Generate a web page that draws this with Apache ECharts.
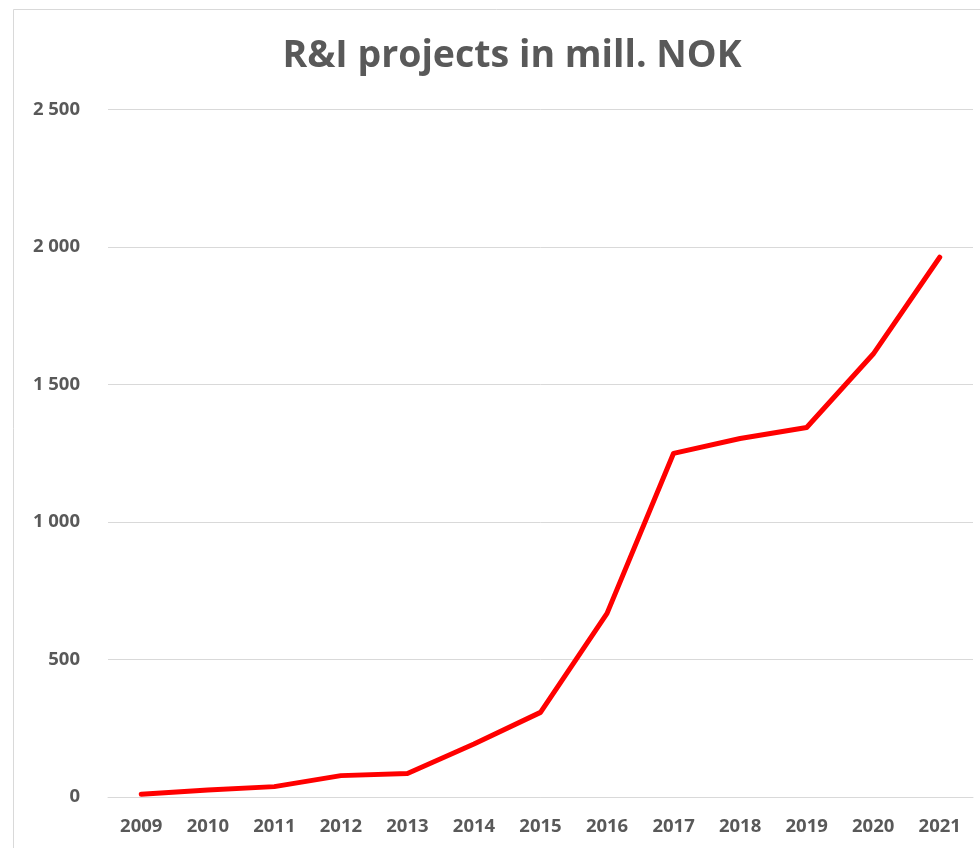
<!DOCTYPE html>
<html><head><meta charset="utf-8">
<script src="https://cdn.jsdelivr.net/npm/echarts@6/dist/echarts.min.js"></script>
<style>html,body{margin:0;padding:0;background:#fff}#c{width:980px;height:848px}</style>
</head><body><div id="c"></div>
<script>
const categories = ['2009','2010','2011','2012','2013','2014','2015','2016','2017','2018','2019','2020','2021'];
const values = [9, 25, 37, 77, 85, 192, 307, 667, 1249, 1303, 1343, 1610, 1962];
const yTicks = [0, 500, 1000, 1500, 2000, 2500];

const chart = echarts.init(document.getElementById('c'), null, {renderer:'canvas'});
const fmt = v => String(v).replace(/\B(?=(\d{3})+(?!\d))/g, ' ');
chart.setOption({
  animation:false,
  backgroundColor:'#fff',
  title:{text:'R&I projects in mill. NOK', left:507, textAlign:'center', top:32,
    textStyle:{fontFamily:'Open Sans', fontWeight:'bold', fontSize:37.5, color:'#595959'}},
  graphic:[{type:'polyline', shape:{points:[[13.5,848],[13.5,9.5],[980,9.5]]}, style:{stroke:'#d9d9d9', lineWidth:1, fill:null}}],
  grid:{left:108, right:7, top:109.3, bottom:51.2},
  xAxis:{type:'category', data:categories, boundaryGap:true,
    axisLine:{show:true, lineStyle:{color:'#d9d9d9', width:1}}, axisTick:{show:false},
    axisLabel:{margin:20, fontFamily:'Open Sans', fontWeight:'bold', fontSize:18.5, color:'#595959'}},
  yAxis:{type:'value', min:yTicks[0], max:yTicks[yTicks.length-1], interval:500,
    axisLine:{show:false}, axisTick:{show:false},
    splitLine:{lineStyle:{color:'#d9d9d9', width:1}},
    axisLabel:{margin:28, formatter:fmt, fontFamily:'Open Sans', fontWeight:'bold', fontSize:18.5, color:'#595959'}},
  series:[{type:'line', data:values, showSymbol:false, symbol:'none',
    lineStyle:{color:'#ff0000', width:5, cap:'round', join:'round'}}]
});
</script></body></html>
